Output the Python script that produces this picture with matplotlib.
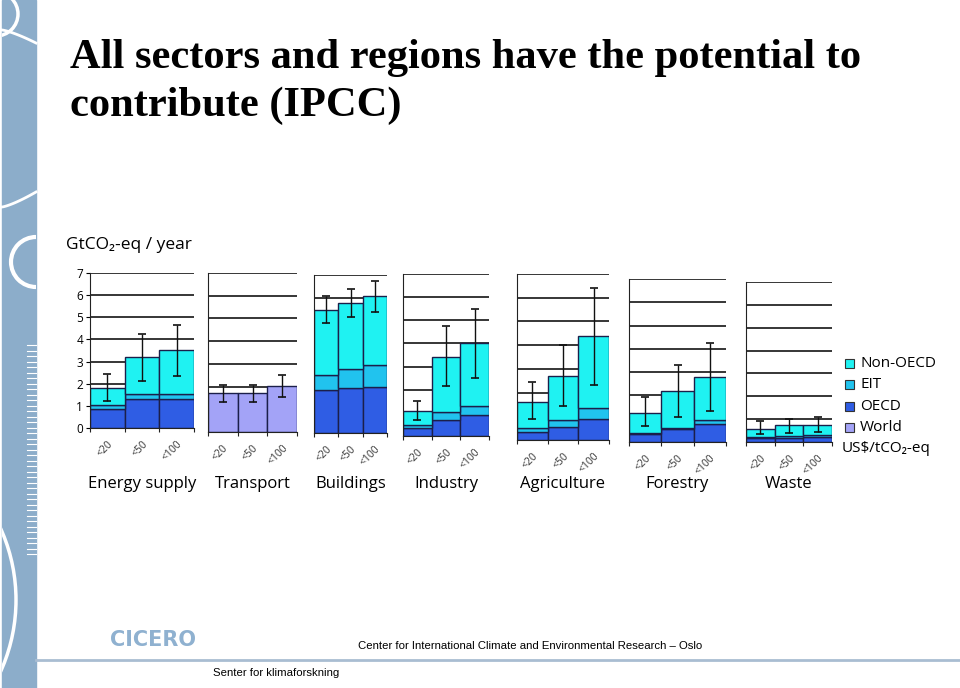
import numpy as np
import matplotlib
matplotlib.use("Agg")
import matplotlib.pyplot as plt
from matplotlib.patches import Rectangle, Circle

# --- datos (GtCO2-eq / año) ---
sectors = ["Energy supply", "Transport", "Buildings", "Industry",
           "Agriculture", "Forestry", "Waste"]
price_labels = ["<20", "<50", "<100"]

oecd = {
    "Energy supply": [0.87, 1.30, 1.30],
    "Buildings": [1.91, 1.99, 2.05],
    "Industry": [0.33, 0.69, 0.91],
    "Agriculture": [0.34, 0.53, 0.90],
    "Forestry": [0.33, 0.57, 0.79],
    "Waste": [0.17, 0.19, 0.22],
}
eit = {
    "Energy supply": [0.18, 0.22, 0.22],
    "Buildings": [0.64, 0.84, 0.97],
    "Industry": [0.13, 0.33, 0.40],
    "Agriculture": [0.15, 0.33, 0.44],
    "Forestry": [0.06, 0.03, 0.17],
    "Waste": [0.06, 0.07, 0.09],
}
non_oecd = {
    "Energy supply": [0.76, 1.67, 1.99],
    "Buildings": [2.90, 2.91, 3.06],
    "Industry": [0.62, 2.39, 2.72],
    "Agriculture": [1.13, 1.85, 3.05],
    "Forestry": [0.87, 1.58, 1.84],
    "Waste": [0.35, 0.50, 0.45],
}
world_transport = [1.71, 1.71, 2.04]

err_low = {
    "Energy supply": [1.22, 2.14, 2.35],
    "Transport": [1.30, 1.33, 1.56],
    "Buildings": [4.86, 5.12, 5.35],
    "Industry": [0.69, 2.15, 2.51],
    "Agriculture": [0.90, 1.43, 2.32],
    "Forestry": [0.69, 1.09, 1.33],
    "Waste": [0.34, 0.39, 0.44],
}
err_high = {
    "Energy supply": [2.42, 4.26, 4.67],
    "Transport": [2.08, 2.08, 2.49],
    "Buildings": [6.07, 6.38, 6.75],
    "Industry": [1.50, 4.74, 5.50],
    "Agriculture": [2.43, 4.02, 6.43],
    "Forestry": [1.95, 3.30, 4.26],
    "Waste": [0.90, 1.02, 1.11],
}

# posiciones de los paneles en pixeles: izq, der, arriba(=7), base(=0)
panel_px = [
    (90, 194, 273, 428),
    (208, 297, 273, 432),
    (314, 387, 275, 433),
    (403, 489, 274, 436),
    (517, 609, 274, 440),
    (629, 726, 279, 442),
    (746, 832, 282, 442),
]

c_non = "#1ff2f2"
c_eit = "#21c3ee"
c_oecd = "#2f5de4"
c_world = "#a3a3f7"
c_edge = "#1b1f4a"

W, H = 960, 688
fig = plt.figure(figsize=(W / 100, H / 100), dpi=100)
fig.patch.set_facecolor("white")

# --- franja decorativa izquierda ---
deco = fig.add_axes([0, 0, 1, 1])
deco.set_xlim(0, W)
deco.set_ylim(H, 0)
deco.axis("off")
deco.add_patch(Rectangle((2, 0), 34, H, color="#8cadca", zorder=1))
clip = Rectangle((2, 0), 34, H, transform=deco.transData)
arcs = [
    Circle((-4, 14), 22, fill=False, ec="white", lw=2.5),
    Circle((36, 262), 25, fill=False, ec="white", lw=3),
    Circle((-158, 600), 174, fill=False, ec="white", lw=2.5),
]
for a in arcs:
    a.set_zorder(2)
    deco.add_patch(a)
    a.set_clip_path(clip)
# arcos suaves
tt = np.linspace(0, 1, 30)
deco.plot(2 + 34 * tt, 30 + 13 * tt ** 1.3, color="white", lw=2, zorder=2)
deco.plot(2 + 34 * tt, 207 - 15 * tt ** 1.3, color="white", lw=2, zorder=2)
for yy in np.arange(345, 556, 5.5):
    deco.plot([27, 36], [yy, yy], color="white", lw=0.8, zorder=2)
deco.plot([36, 960], [660, 660], color="#a9bdd2", lw=2, zorder=1)

# --- título ---
fig.text(70 / W, 1 - 68 / H, "All sectors and regions have the potential to",
         family="Liberation Serif", weight="bold", fontsize=30.6, va="baseline")
fig.text(70 / W, 1 - 116 / H, "contribute (IPCC)",
         family="Liberation Serif", weight="bold", fontsize=30.6, va="baseline")

sans = ["Open Sans", "DejaVu Sans"]

fig.text(66 / W, 1 - 245 / H, "GtCO₂-eq / year", family=sans, fontsize=12.5,
         va="center", ha="left")

x = np.arange(3) + 0.5
for i, (sec, (l, r, t, b)) in enumerate(zip(sectors, panel_px)):
    ax = fig.add_axes([l / W, 1 - b / H, (r - l) / W, (b - t) / H])
    ax.set_xlim(0, 3)
    ax.set_ylim(0, 7)
    for g in range(1, 8):
        ax.axhline(g, color="black", lw=1.1, zorder=0)
    if sec == "Transport":
        ax.bar(x, world_transport, width=1, color=c_world, edgecolor=c_edge,
               lw=1, zorder=2)
    else:
        o = np.array(oecd[sec])
        e = np.array(eit[sec])
        n = np.array(non_oecd[sec])
        ax.bar(x, o, width=1, color=c_oecd, edgecolor=c_edge, lw=1, zorder=2)
        ax.bar(x, e, width=1, bottom=o, color=c_eit, edgecolor=c_edge, lw=1,
               zorder=2)
        ax.bar(x, n, width=1, bottom=o + e, color=c_non, edgecolor=c_edge,
               lw=1, zorder=2)
    lo = np.array(err_low[sec])
    hi = np.array(err_high[sec])
    mid = (lo + hi) / 2
    ax.errorbar(x, mid, yerr=(hi - lo) / 2, fmt="none", ecolor="#111111",
                elinewidth=1, capsize=3, capthick=1.2, zorder=3)

    for s in ["top", "right"]:
        ax.spines[s].set_visible(False)
    ax.spines["left"].set_color("#222222")
    ax.spines["bottom"].set_color("#222222")
    ax.spines["left"].set_zorder(4)
    ax.set_facecolor("none")
    ax.set_xticks([0, 1, 2, 3])
    ax.set_xticklabels([])
    ax.tick_params(axis="x", which="major", length=3, color="#222222")
    ax.set_xticks(x, minor=True)
    ax.set_xticklabels(price_labels, minor=True, rotation=45, ha="right",
                       rotation_mode="anchor", fontsize=7.5, color="#333333",
                       family=sans)
    ax.tick_params(axis="x", which="minor", length=0, pad=8)
    ax.set_yticks(range(8))
    if i == 0:
        ax.set_yticklabels([str(v) for v in range(8)], fontsize=8.5,
                           family=sans)
        ax.tick_params(axis="y", length=3, pad=2)
    else:
        ax.set_yticklabels([])
        ax.tick_params(axis="y", length=0)

    fig.text(((l + r) / 2) / W, 1 - 484 / H, sec, family=sans, fontsize=12,
             ha="center", va="center")

# --- leyenda ---
leg_items = [("Non-OECD", c_non), ("EIT", c_eit), ("OECD", c_oecd),
             ("World", c_world)]
for k, (lab, col) in enumerate(leg_items):
    yy = 363 + k * 21.5
    deco.add_patch(Rectangle((845, yy - 4.5), 9, 9, facecolor=col,
                             edgecolor="#333333", lw=0.8, zorder=3))
    fig.text(860 / W, 1 - yy / H, lab, family=sans, fontsize=11,
             va="center", ha="left")
fig.text(842 / W, 1 - 449 / H, "US$/tCO₂-eq", family=sans, fontsize=11,
         va="center", ha="left")

# --- pie de página ---
fig.text(110 / W, 1 - 640 / H, "CICERO", family="DejaVu Sans",
         weight="bold", fontsize=15, color="#8fb1d0", va="center", ha="left")
fig.text(358 / W, 1 - 646 / H,
         "Center for International Climate and Environmental Research – Oslo",
         family="Liberation Sans", fontsize=8.2, va="center", ha="left")
fig.text(213 / W, 1 - 673 / H, "Senter for klimaforskning",
         family="Liberation Sans", fontsize=8.2, va="center", ha="left")

fig.savefig("out.png", dpi=100)
